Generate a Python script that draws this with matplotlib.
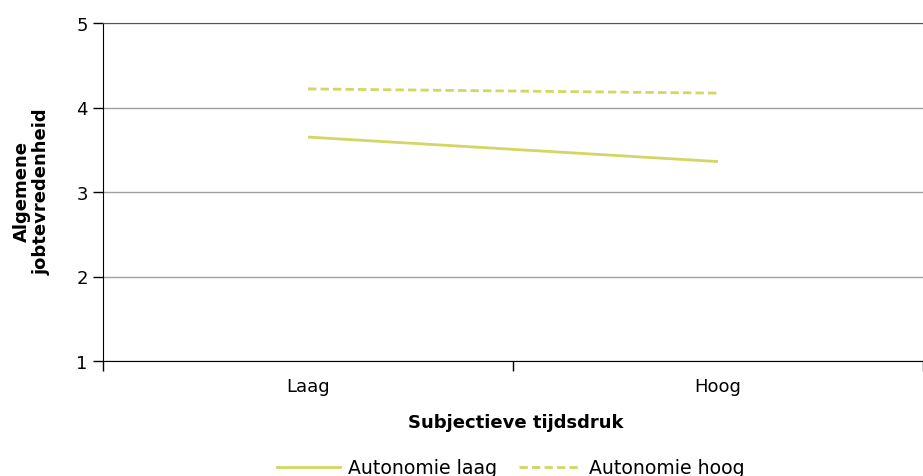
import matplotlib
matplotlib.use("Agg")
import matplotlib.pyplot as plt
from matplotlib.lines import Line2D

categories = ["Laag", "Hoog"]
autonomie_laag = [3.65, 3.36]
autonomie_hoog = [4.22, 4.17]
series_names = ["Autonomie laag", "Autonomie hoog"]
yticks = [1, 2, 3, 4, 5]

color = "#d2d763"
fig = plt.figure(figsize=(9.23, 4.77), dpi=100)
W, H = 923, 477
ax = fig.add_axes([103 / W, 1 - 362 / H, (923 - 103) / W, (362 - 24) / H])

x = list(range(len(categories)))
ax.plot(x, autonomie_laag, color=color, lw=2.0, solid_capstyle="butt")
ax.plot(x, autonomie_hoog, color=color, lw=2.0, ls=(0, (3, 1.5)))

ax.set_xlim(-0.5, 1.475)
ax.set_ylim(1, 5)
ax.set_yticks(yticks)
ax.set_yticklabels([str(v) for v in yticks], fontsize=13)
ax.yaxis.grid(True, color="#a0a0a0", lw=1)
ax.set_axisbelow(True)
ax.spines["right"].set_visible(False)
ax.spines["top"].set_color("#555555")
ax.spines["left"].set_color("black")
ax.spines["bottom"].set_color("black")
ax.tick_params(axis="y", length=7, width=1, direction="out", pad=4)

ax.set_xticks([-0.5, 0.5, 1.5])
ax.set_xticklabels([])
ax.tick_params(axis="x", length=7, width=1, direction="out")
for xi, c in zip(x, categories):
    ax.text(xi, -25 / 338, c, transform=ax.get_xaxis_transform(), ha="center", va="center", fontsize=13)

fig.text(516 / W, 1 - 423 / H, "Subjectieve tijdsdruk", ha="center", va="center",
         fontsize=13, fontweight="bold")
fig.text(32 / W, 1 - 192 / H, "Algemene\njobtevredenheid", rotation=90, ha="center", va="center",
         fontsize=13, fontweight="bold", linespacing=1.1)

handles = [Line2D([], [], color=color, lw=2.0),
           Line2D([], [], color=color, lw=2.0, ls=(0, (3, 1.5)))]
fig.legend(handles, series_names, loc="center", bbox_to_anchor=(511 / W, 1 - 469 / H), ncol=2,
           frameon=False, fontsize=13.6, handlelength=3.3, handletextpad=0.42, columnspacing=1.15)

fig.savefig("out.png", dpi=100)
